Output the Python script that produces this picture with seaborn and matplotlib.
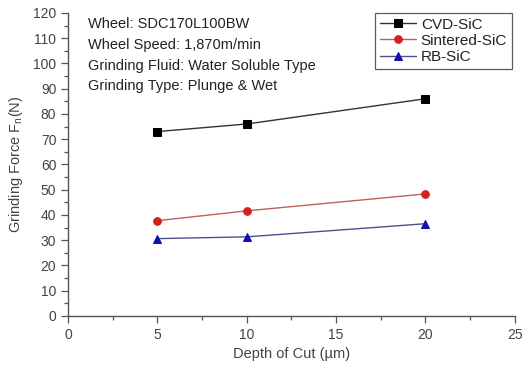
import pandas as pd
import seaborn as sns
import matplotlib.pyplot as plt
from matplotlib.ticker import MultipleLocator

# data
depth = [5, 10, 20]
cvd_sic = [73, 76, 86]
sintered_sic = [37.7, 41.6, 48.3]
rb_sic = [30.6, 31.3, 36.5]

df = pd.DataFrame({
    'depth': depth * 3,
    'force': cvd_sic + sintered_sic + rb_sic,
    'material': ['CVD-SiC'] * 3 + ['Sintered-SiC'] * 3 + ['RB-SiC'] * 3,
})

sns.set_style('ticks')
plt.rcParams['font.family'] = ['Liberation Sans', 'DejaVu Sans']
plt.rcParams['xtick.direction'] = 'out'
plt.rcParams['ytick.direction'] = 'out'

fig = plt.figure(figsize=(5.28, 3.69), dpi=100)
ax = fig.add_axes([0.129, 0.144, 0.846, 0.821])

palette = {'CVD-SiC': 'black', 'Sintered-SiC': '#d42020', 'RB-SiC': '#1010b0'}
markers = {'CVD-SiC': 's', 'Sintered-SiC': 'o', 'RB-SiC': '^'}
line_colors = {'CVD-SiC': '#333333', 'Sintered-SiC': '#c06060', 'RB-SiC': '#505090'}

for name in ['CVD-SiC', 'Sintered-SiC', 'RB-SiC']:
    sub = df[df['material'] == name]
    sns.lineplot(data=sub, x='depth', y='force', ax=ax, label=name,
                 color=line_colors[name], linewidth=1.0,
                 marker=markers[name], markersize=5.5,
                 markerfacecolor=palette[name], markeredgecolor=palette[name])

ax.set_xlim(0, 25)
ax.set_ylim(0, 120)
ax.xaxis.set_major_locator(MultipleLocator(5))
ax.xaxis.set_minor_locator(MultipleLocator(2.5))
ax.yaxis.set_major_locator(MultipleLocator(10))
ax.yaxis.set_minor_locator(MultipleLocator(5))
ax.tick_params(which='major', length=5, width=0.9, colors='#555555', labelsize=10, labelcolor='#444444')
ax.tick_params(which='minor', length=3, width=0.9, colors='#555555')
sns.despine(ax=ax)
for s in ['left', 'bottom']:
    ax.spines[s].set_color('#555555')
    ax.spines[s].set_linewidth(1.0)

ax.set_xlabel('Depth of Cut (\u00b5m)', fontsize=10.5, color='#444444')
ax.set_ylabel('Grinding Force F$_\\mathregular{n}$(N)', fontsize=10.5, color='#444444', labelpad=6)

info = ['Wheel: SDC170L100BW',
        'Wheel Speed: 1,870m/min',
        'Grinding Fluid: Water Soluble Type',
        'Grinding Type: Plunge & Wet']
for i, line in enumerate(info):
    ax.text(0.045, 0.985 - i * 0.068, line, transform=ax.transAxes,
            fontsize=10.5, color='#222222', va='top', ha='left')

leg = ax.legend(loc='upper right', bbox_to_anchor=(1.0, 1.01), fontsize=11,
                frameon=True, fancybox=False, handlelength=2.4,
                handletextpad=0.3, borderpad=0.3, labelspacing=0.15,
                borderaxespad=0.2)
leg.get_frame().set_edgecolor('#333333')
leg.get_frame().set_linewidth(0.9)
for t in leg.get_texts():
    t.set_color('#222222')

fig.savefig('out.png', dpi=100)
